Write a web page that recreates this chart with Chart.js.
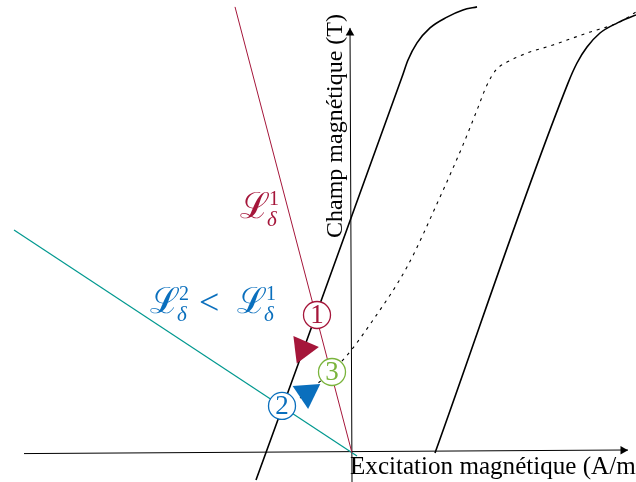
<!DOCTYPE html>
<html>
<head>
<meta charset="utf-8">
<script src="https://cdn.jsdelivr.net/npm/chart.js@4.4.1/dist/chart.umd.min.js"></script>
<style>
  html, body { margin: 0; padding: 0; background: #fff; }
  #wrap { width: 636px; height: 482px; }
</style>
</head>
<body>
<div id="wrap"><canvas id="chart" width="636" height="482"></canvas></div>
<script>
// H in kA/m (schematic), B in T
const curveLeftH = [-2.4, 1.25, 1.4, 1.625, 1.95, 2.375, 2.775, 3.125];
const curveLeftB = [-0.09, 1.253, 1.31, 1.367, 1.417, 1.453, 1.477, 1.487];
const curveRightH = [2.075, 5.4, 5.625, 5.875, 6.2, 6.625, 7.1];
const curveRightB = [0, 1.233, 1.3, 1.353, 1.4, 1.433, 1.46];
const recoilH = [-1.3, -0.225, 0.525, 1.375, 2.2, 2.775, 3.125, 3.375, 3.6, 3.875, 4.375, 5.025, 5.875, 6.7, 7.1];
const recoilB = [0.183, 0.31, 0.443, 0.62, 0.853, 1.027, 1.143, 1.227, 1.277, 1.303, 1.333, 1.36, 1.4, 1.437, 1.47];
const load1H = [-2.925, 0];
const load1B = [1.487, 0];
const load2H = [-8.45, 0.125];
const load2B = [0.743, -0.01];
const axisXH = [-8.2, 6.9];
const axisXB = [-0.002, 0.01];
const axisYH = [0, -0.05];
const axisYB = [-0.0967, 1.417];
const axisTipH = [6.775, -0.05];
const axisTipB = [0.009, 1.4];
const pointLabels = ['1', '2', '3'];
const pointH = [-0.875, -1.75, -0.5];
const pointB = [0.46, 0.157, 0.27];
const arrowH = [-1.225, -1.125];
const arrowB = [0.347, 0.2];

const red = '#a5163a';
const blue = '#0a6fbd';
const green = '#7ab43c';
const teal = '#00988f';

function pts(xs, ys) {
    return xs.map((x, i) => ({ x: x, y: ys[i] }));
}

function lineSet(xs, ys, color, width, extra) {
    return Object.assign({
        data: pts(xs, ys),
        showLine: true,
        borderColor: color,
        borderWidth: width,
        pointRadius: 0,
        fill: false,
        order: 5
    }, extra || {});
}

function drawL(ctx, x, y, sup, color) {
    ctx.fillStyle = color;
    ctx.textAlign = 'left';
    ctx.textBaseline = 'alphabetic';
    ctx.font = '36px "DejaVu Serif"';
    ctx.fillText('ℒ', x, y);
    const w = ctx.measureText('ℒ').width;
    ctx.font = '20px "Liberation Serif"';
    ctx.fillText(sup, x + w - 1, y - 13);
    ctx.font = 'italic 21px "Liberation Serif"';
    ctx.fillText('δ', x + w - 3, y + 8);
}

const textPlugin = {
    id: 'textPlugin',
    afterDatasetsDraw(chart) {
        const ctx = chart.ctx;
        ctx.save();
        // numbers in the circles
        const meta = chart.getDatasetMeta(0);
        const colors = [red, blue, green];
        ctx.font = '27px "Liberation Serif"';
        ctx.textAlign = 'center';
        ctx.textBaseline = 'middle';
        meta.data.forEach((el, i) => {
            ctx.fillStyle = colors[i];
            ctx.fillText(pointLabels[i], el.x, el.y + 1);
        });

        // load line labels
        drawL(ctx, 240, 218, '1', red);
        drawL(ctx, 150, 313, '2', blue);
        ctx.fillStyle = blue;
        ctx.font = '36px "Liberation Serif"';
        ctx.fillText('<', 199, 314);
        drawL(ctx, 237, 313, '1', blue);

        // axis titles
        ctx.fillStyle = '#000';
        ctx.font = '25.1px "Liberation Serif"';
        ctx.textAlign = 'left';
        ctx.textBaseline = 'alphabetic';
        ctx.fillText('Excitation magnétique (A/m', 350, 474);
        ctx.font = '24px "Liberation Serif"';
        ctx.translate(342, 238);
        ctx.rotate(-Math.PI / 2);
        ctx.fillText('Champ magnétique (T)', 0, 0);
        ctx.restore();
    }
};

const ctx = document.getElementById('chart').getContext('2d');
new Chart(ctx, {
    type: 'scatter',
    data: {
        datasets: [
            {
                data: pts(pointH, pointB),
                pointRadius: 13.5,
                pointStyle: 'circle',
                pointBackgroundColor: '#fff',
                pointBorderColor: [red, blue, green],
                pointBorderWidth: 1.3,
                order: 0
            },
            {
                data: pts(arrowH, arrowB),
                pointRadius: 16,
                pointStyle: 'triangle',
                rotation: [83, 56],
                pointBackgroundColor: [red, blue],
                pointBorderWidth: 0,
                order: 1
            },
            {
                data: pts(axisTipH, axisTipB),
                pointRadius: 5,
                pointStyle: 'triangle',
                rotation: [90, 0],
                pointBackgroundColor: '#000',
                pointBorderWidth: 0,
                order: 2
            },
            lineSet(load1H, load1B, red, 1),
            lineSet(load2H, load2B, teal, 1.2),
            lineSet(curveLeftH, curveLeftB, '#000', 1.6, { cubicInterpolationMode: 'monotone' }),
            lineSet(curveRightH, curveRightB, '#000', 1.6, { cubicInterpolationMode: 'monotone' }),
            lineSet(recoilH, recoilB, '#000', 1.1, { cubicInterpolationMode: 'monotone', borderDash: [3, 5] }),
            lineSet(axisXH, axisXB, '#000', 1, { order: 6 }),
            lineSet(axisYH, axisYB, '#000', 1, { order: 6 })
        ]
    },
    options: {
        responsive: false,
        animation: false,
        layout: { padding: 0, autoPadding: false },
        plugins: {
            legend: { display: false },
            tooltip: { enabled: false }
        },
        scales: {
            x: { type: 'linear', min: -8.8, max: 7.1, display: false },
            y: { type: 'linear', min: -0.0967, max: 1.51, display: false }
        }
    },
    plugins: [textPlugin]
});
</script>
</body>
</html>
